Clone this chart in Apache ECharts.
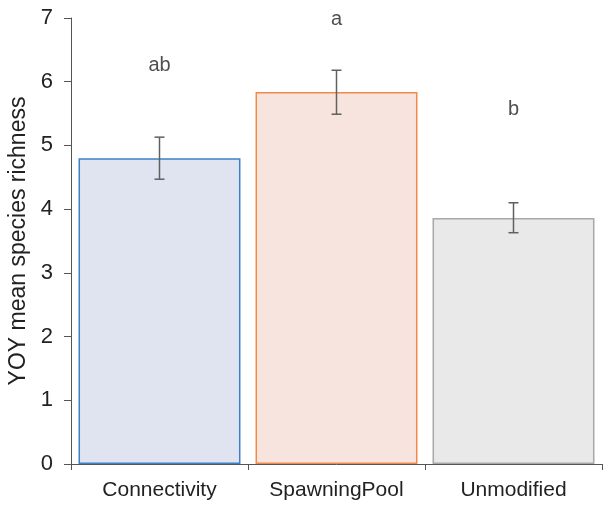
<!DOCTYPE html>
<html>
<head>
<meta charset="utf-8">
<script src="https://cdn.jsdelivr.net/npm/echarts@6/dist/echarts.min.js"></script>
<style>html,body{margin:0;padding:0;background:#fff}#c{width:603px;height:506px}</style>
</head>
<body>
<div id="c"></div>
<script>
var categories = ['Connectivity', 'SpawningPool', 'Unmodified'];
var means = [4.80, 5.84, 3.86];
var errLow = [4.47, 5.49, 3.63];
var errHigh = [5.13, 6.18, 4.10];
var letters = ['ab', 'a', 'b'];
var letterY = [6.26, 6.98, 5.56];
var yTicks = [0, 1, 2, 3, 4, 5, 6, 7];

var fills = ['#dfe4f0', '#f8e4de', '#e9e9e9'];
var borders = ['#3f80c4', '#f0894a', '#a8a8a8'];

var chart = echarts.init(document.getElementById('c'), null, {renderer: 'canvas'});
var font = 'Liberation Sans, Arial, sans-serif';

chart.setOption({
  animation: false,
  grid: {left: 71, right: 1, top: 18, bottom: 42, containLabel: false, outerBoundsMode: 'none'},
  xAxis: {
    type: 'category',
    data: categories,
    axisLine: {lineStyle: {color: '#555', width: 1}},
    axisTick: {show: true, length: 6, lineStyle: {color: '#555'}},
    axisLabel: {color: '#222', fontSize: 21, fontFamily: font, margin: 16}
  },
  yAxis: {
    type: 'value',
    min: yTicks[0],
    max: yTicks[yTicks.length - 1],
    interval: 1,
    name: 'YOY mean species richness',
    nameLocation: 'middle',
    nameGap: 41,
    nameTextStyle: {color: '#222', fontSize: 23, fontFamily: font},
    splitLine: {show: false},
    axisLine: {show: true, lineStyle: {color: '#555', width: 1}},
    axisTick: {show: true, length: 7, lineStyle: {color: '#555'}},
    axisLabel: {color: '#222', fontSize: 22, fontFamily: font, margin: 18}
  },
  series: [
    {
      type: 'bar',
      barCategoryGap: '8.5%',
      data: means.map(function (v, i) {
        return {value: v, itemStyle: {color: fills[i], borderColor: borders[i], borderWidth: 1.5}};
      })
    },
    {
      type: 'custom',
      data: categories.map(function (c, i) { return [i, errLow[i], errHigh[i]]; }),
      renderItem: function (params, api) {
        var x = api.value(0);
        var lo = api.coord([x, api.value(1)]);
        var hi = api.coord([x, api.value(2)]);
        var hw = 5;
        var st = {stroke: '#606060', lineWidth: 1.5};
        return {
          type: 'group',
          children: [
            {type: 'line', shape: {x1: lo[0], y1: lo[1], x2: hi[0], y2: hi[1]}, style: st},
            {type: 'line', shape: {x1: lo[0] - hw, y1: lo[1], x2: lo[0] + hw, y2: lo[1]}, style: st},
            {type: 'line', shape: {x1: hi[0] - hw, y1: hi[1], x2: hi[0] + hw, y2: hi[1]}, style: st}
          ]
        };
      },
      z: 5
    },
    {
      type: 'scatter',
      symbolSize: 0,
      data: letters.map(function (l, i) { return {value: [i, letterY[i]], name: l}; }),
      label: {
        show: true,
        position: 'inside',
        formatter: function (p) { return p.name; },
        color: '#222',
        fontSize: 20,
        fontFamily: font
      }
    }
  ]
});
</script>
</body>
</html>
